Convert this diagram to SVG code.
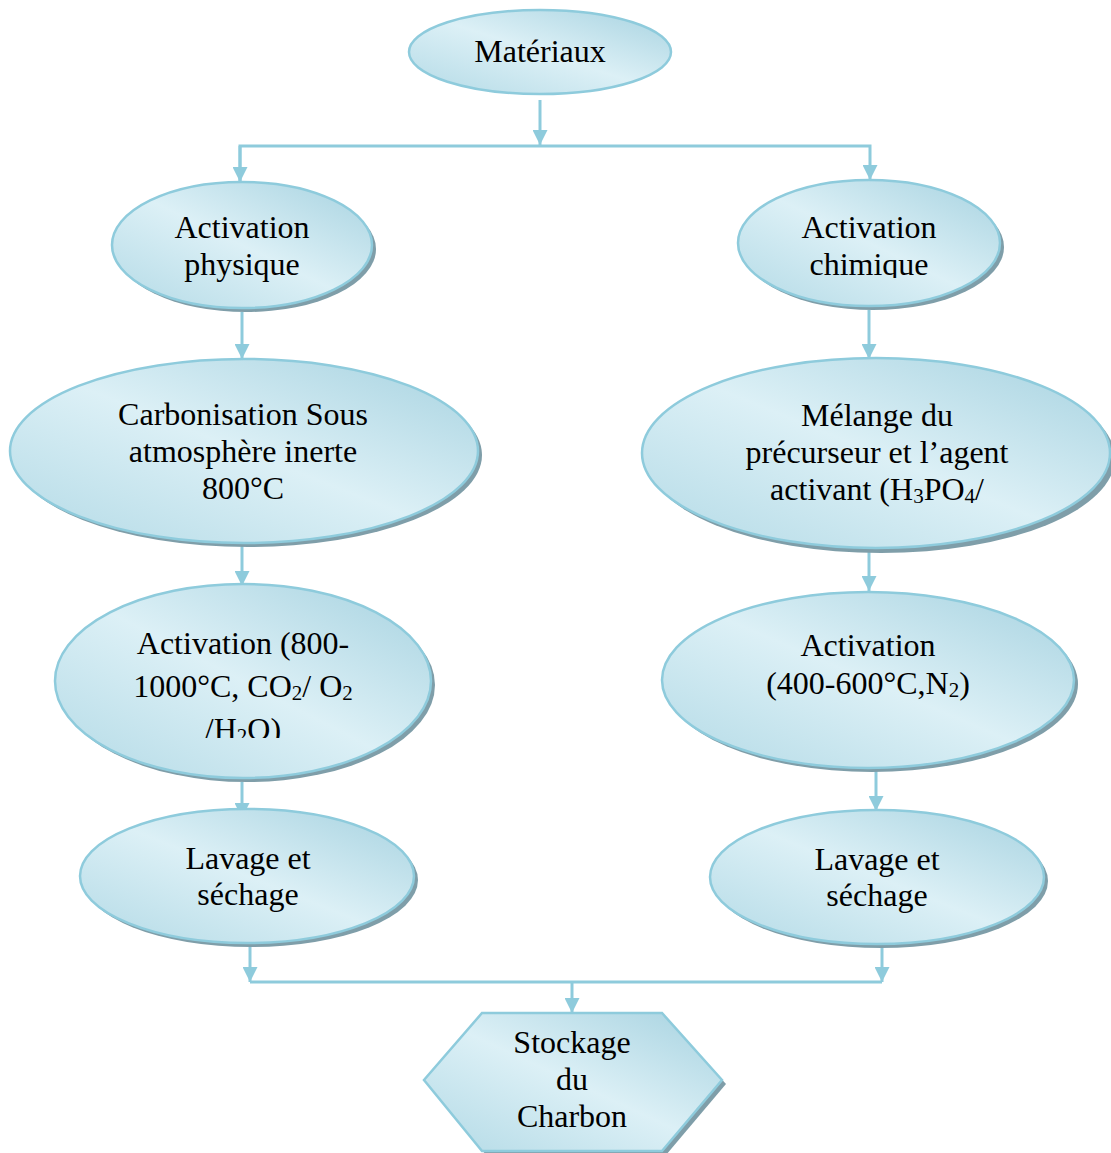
<svg xmlns="http://www.w3.org/2000/svg" width="1111" height="1153" viewBox="0 0 1111 1153" font-family="'Liberation Serif', 'Times New Roman', Times, serif">
<style>
.n{fill:url(#g);stroke:#8ecbdc;stroke-width:2.5}
.s{fill:#7f9ea9}
.t{font-size:32px;fill:#000;text-anchor:middle}
.sub{font-size:21px}
.c{stroke:#8ecbdc;stroke-width:3;fill:none}
</style>
<defs>
<linearGradient id="g" x1="1" y1="0" x2="0" y2="1">
<stop offset="0" stop-color="#a6d2e0"/>
<stop offset="0.5" stop-color="#dcf0f6"/>
<stop offset="1" stop-color="#b3dae6"/>
</linearGradient>
<marker id="a" viewBox="0 0 10 10" refX="10" refY="5" markerWidth="5" markerHeight="5" markerUnits="strokeWidth" orient="auto">
<path d="M0,0 L10,5 L0,10 Z" fill="#8ecbdc"/>
</marker>
<clipPath id="clipL"><rect x="0" y="560" width="500" height="178"/></clipPath>
<clipPath id="clipC"><rect x="700" y="180" width="400" height="98"/></clipPath>
</defs>

<g id="connectors">
<line class="c" x1="540" y1="100" x2="540" y2="145" marker-end="url(#a)"/>
<polyline class="c" points="240,182 240,146 870,146 870,180" marker-end="url(#a)"/>
<line class="c" x1="240" y1="146" x2="240" y2="182" marker-end="url(#a)"/>
<line class="c" x1="242" y1="312" x2="242" y2="359" marker-end="url(#a)"/>
<line class="c" x1="869" y1="310" x2="869" y2="359" marker-end="url(#a)"/>
<line class="c" x1="242" y1="545" x2="242" y2="586" marker-end="url(#a)"/>
<line class="c" x1="869" y1="550" x2="869" y2="591" marker-end="url(#a)"/>
<line class="c" x1="242" y1="782" x2="242" y2="818" marker-end="url(#a)"/>
<line class="c" x1="876" y1="770" x2="876" y2="811" marker-end="url(#a)"/>
<line class="c" x1="250" y1="947" x2="250" y2="982" marker-end="url(#a)"/>
<line class="c" x1="882" y1="947" x2="882" y2="982" marker-end="url(#a)"/>
<line class="c" x1="250" y1="982" x2="882" y2="982"/>
<line class="c" x1="572" y1="982" x2="572" y2="1013" marker-end="url(#a)"/>
</g>

<g id="n-materiaux">
<ellipse class="n" cx="540" cy="52" rx="131" ry="42"/>
<text class="t" x="540" y="62">Matériaux</text>
</g>

<g id="n-act-phys">
<ellipse class="s" cx="246" cy="249" rx="130" ry="63"/>
<ellipse class="n" cx="242" cy="245" rx="130" ry="63"/>
<text class="t" x="242" y="238">Activation</text>
<text class="t" x="242" y="275">physique</text>
</g>

<g id="n-act-chim">
<ellipse class="s" cx="873" cy="247" rx="131" ry="63"/>
<ellipse class="n" cx="869" cy="243" rx="131" ry="63"/>
<text class="t" x="869" y="238">Activation</text>
<text class="t" x="869" y="275" clip-path="url(#clipC)">chimique</text>
</g>

<g id="n-carbonisation">
<ellipse class="s" cx="248" cy="455" rx="234" ry="92"/>
<ellipse class="n" cx="244" cy="451" rx="234" ry="92"/>
<text class="t" x="243" y="425">Carbonisation Sous</text>
<text class="t" x="243" y="462">atmosphère inerte</text>
<text class="t" x="243" y="499">800°C</text>
</g>

<g id="n-melange">
<ellipse class="s" cx="881" cy="458" rx="234" ry="95"/>
<ellipse class="n" cx="876" cy="453" rx="234" ry="95"/>
<text class="t" x="877" y="426">Mélange du</text>
<text class="t" x="877" y="463">précurseur et l’agent</text>
<text class="t" x="877" y="500">activant (H<tspan class="sub" dy="3">3</tspan><tspan dy="-3">PO</tspan><tspan class="sub" dy="3">4</tspan><tspan dy="-3">/</tspan></text>
</g>

<g id="n-act-800">
<ellipse class="s" cx="247" cy="685" rx="188" ry="97"/>
<ellipse class="n" cx="243" cy="681" rx="188" ry="97"/>
<text class="t" x="243" y="654">Activation (800-</text>
<text class="t" x="243" y="697">1000°C, CO<tspan class="sub" dy="3">2</tspan><tspan dy="-3">/ O</tspan><tspan class="sub" dy="3">2</tspan></text>
<text class="t" x="243" y="740" clip-path="url(#clipL)">/H<tspan class="sub" dy="3">2</tspan><tspan dy="-3">O)</tspan></text>
</g>

<g id="n-act-400">
<ellipse class="s" cx="872" cy="684" rx="206" ry="88"/>
<ellipse class="n" cx="868" cy="680" rx="206" ry="88"/>
<text class="t" x="868" y="656">Activation</text>
<text class="t" x="868" y="694">(400-600°C,N<tspan class="sub" dy="3">2</tspan><tspan dy="-3">)</tspan></text>
</g>

<g id="n-lavage-l">
<ellipse class="s" cx="251" cy="880" rx="167" ry="67"/>
<ellipse class="n" cx="247" cy="876" rx="167" ry="67"/>
<text class="t" x="248" y="869">Lavage et</text>
<text class="t" x="248" y="905">séchage</text>
</g>

<g id="n-lavage-r">
<ellipse class="s" cx="881" cy="881" rx="167" ry="67"/>
<ellipse class="n" cx="877" cy="877" rx="167" ry="67"/>
<text class="t" x="877" y="870">Lavage et</text>
<text class="t" x="877" y="906">séchage</text>
</g>

<g id="n-stockage">
<polygon class="s" points="486,1017 666,1017 726,1084 666,1155 486,1155 428,1084"/>
<polygon class="n" points="482,1013 662,1013 722,1080 662,1151 482,1151 424,1080"/>
<text class="t" x="572" y="1053">Stockage</text>
<text class="t" x="572" y="1090">du</text>
<text class="t" x="572" y="1127">Charbon</text>
</g>
</svg>
